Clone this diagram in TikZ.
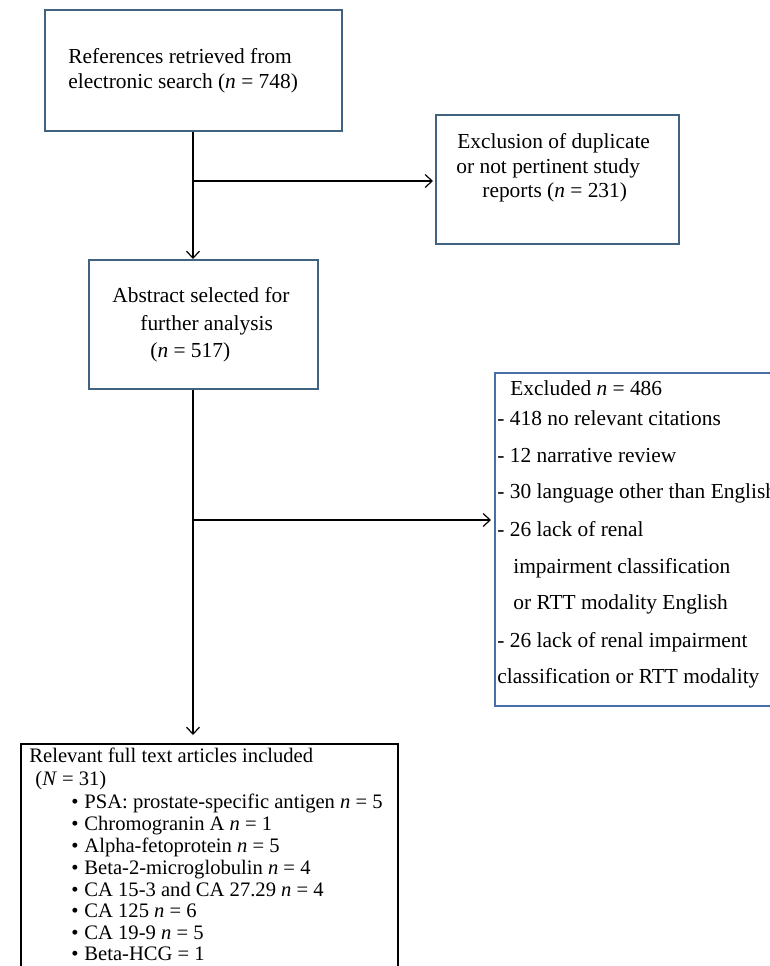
\documentclass[tikz,border=0pt]{standalone}
\usepackage{fontspec}
\setmainfont{Liberation Serif}
\usetikzlibrary{arrows.meta}
\definecolor{boxslate}{RGB}{66,98,130}
\definecolor{boxblue}{RGB}{72,112,168}
\tikzset{
  boxA/.style={draw=boxslate, line width=0.75pt, rectangle, inner sep=0pt, anchor=north west},
  boxB/.style={draw=boxblue, line width=0.75pt, rectangle, inner sep=0pt, anchor=north west},
  boxC/.style={draw=black, line width=0.75pt, rectangle, inner sep=0pt, anchor=north west},
  txt/.style={anchor=base west, inner sep=0pt, font=\fontsize{10.7pt}{12pt}\selectfont},
  stxt/.style={anchor=base west, inner sep=0pt, font=\fontsize{10.3pt}{11pt}\selectfont},
  conn/.style={draw=black, line width=0.7pt, -{Straight Barb[length=3.5pt,width=6.5pt,line width=0.6pt]}}
}
\begin{document}
\begin{tikzpicture}[x=0.5pt,y=-0.5pt]
\clip (0,0) rectangle (770,966);
\fill[white] (0,0) rectangle (770,966);

% boxes
\node[boxA, minimum width=148.5pt, minimum height=60.5pt] (top) at (44,9) {};
\node[boxA, minimum width=121.5pt, minimum height=64.5pt] (excl) at (435,114) {};
\node[boxA, minimum width=114.5pt, minimum height=64.5pt] (abs) at (88,259) {};
\node[boxB, minimum width=203pt, minimum height=166.5pt] (exd) at (494,372) {};
\node[boxC, minimum width=188.5pt, minimum height=128.5pt] (rel) at (20,743) {};

% junctions
\coordinate (j1) at (193,181);
\coordinate (j2) at (193,520);

% connectors
\draw[conn] (top.south -| j1) -- (abs.north -| j1);
\draw[conn, shorten >=1pt] (j1) -- (excl.west |- j1);
\draw[conn, shorten >=4pt] (abs.south -| j2) -- (rel.north -| j2);
\draw[conn, shorten >=1.5pt] (j2) -- (exd.west |- j2);

% top box text
\node[txt] (t1) at (68,63) {References retrieved from};
\node[txt] (t2) at (68,88) {electronic search (\textit{n} = 748)};

% exclusion box text
\node[txt] (e1) at (457,148) {Exclusion of duplicate};
\node[txt] (e2) at (456,173) {or not pertinent study};
\node[txt] (e3) at (482,197) {reports (\textit{n} = 231)};

% abstract box text
\node[txt] (a1) at (112,302) {Abstract selected for};
\node[txt] (a2) at (140,330) {further analysis};
\node[txt] (a3) at (150,357) {(\textit{n} = 517)};

% excluded box text
\node[txt] (x1) at (510,395) {Excluded \textit{n} = 486};
\node[txt] (x2) at (497,425) {- 418 no relevant citations};
\node[txt] (x3) at (497,462) {- 12 narrative review};
\node[txt] (x4) at (497,498) {- 30 language other than English};
\node[txt] (x5) at (497,536) {- 26 lack of renal};
\node[txt] (x6) at (513,573) {impairment classification};
\node[txt] (x7) at (513,609) {or RTT modality English};
\node[txt] (x8) at (497,647) {- 26 lack of renal impairment};
\node[txt] (x9) at (497,683) {classification or RTT modality};

% relevant box text
\node[stxt] (r1) at (29,762) {Relevant full text articles included};
\node[stxt] (r2) at (35,785) {(\textit{N} = 31)};
\foreach \y/\t [count=\i] in {
  808/{PSA: prostate-specific antigen \textit{n} = 5},
  830/{Chromogranin A \textit{n} = 1},
  852/{Alpha-fetoprotein \textit{n} = 5},
  874/{Beta-2-microglobulin \textit{n} = 4},
  896/{CA 15-3 and CA 27.29 \textit{n} = 4},
  917/{CA 125 \textit{n} = 6},
  939/{CA 19-9 \textit{n} = 5},
  960/{Beta-HCG = 1}} {
  \node[stxt] (b\i) at (71,\y) {\textbullet};
  \node[stxt] (i\i) at (84,\y) {\t};
}
\end{tikzpicture}
\end{document}
